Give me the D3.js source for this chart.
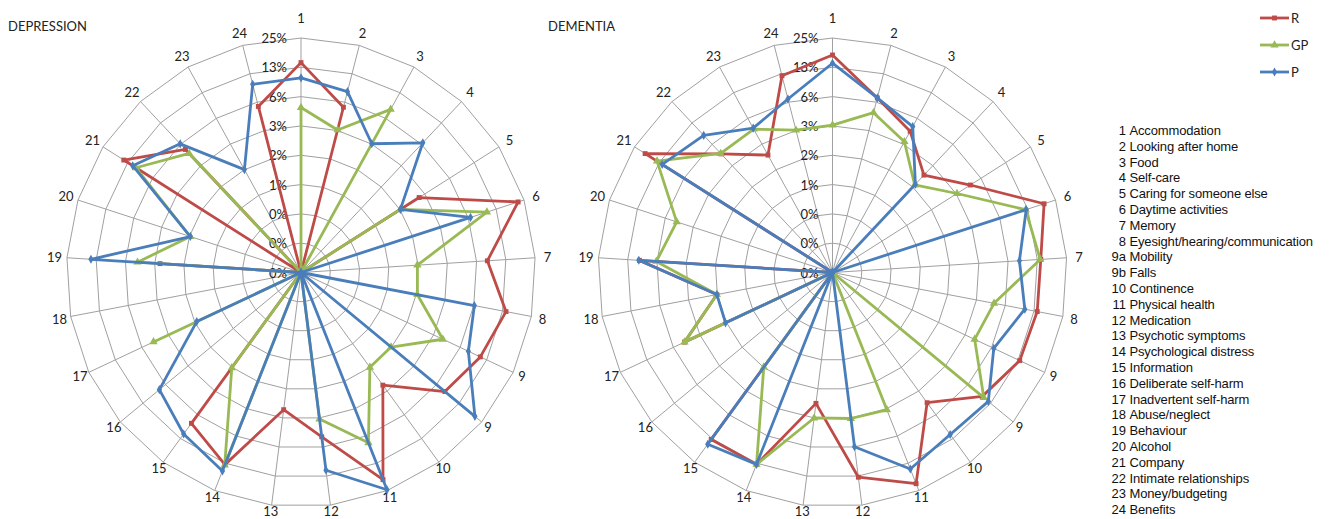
<!DOCTYPE html>
<html>
<head>
<meta charset="utf-8">
<script src="https://cdn.jsdelivr.net/npm/d3@7"></script>
<style>
  body { margin: 0; background: #fff; }
  svg { display: block; }
</style>
</head>
<body>
<div id="chart"></div>
<script>
const width = 1334, height = 519;
const radius = 234.5;

const categories = ["1", "2", "3", "4", "5", "6", "7", "8", "9", "9", "10", "11", "12",
  "13", "14", "15", "16", "17", "18", "19", "20", "21", "22", "23", "24"];

// percentages per category, in category order; 0 = plotted at centre
const depR  = [13.97, 5.52, 0, 0, 2.67, 21.6, 8.08, 13.58, 10.59, 8.08, 2.63, 18.95, 4.90,
  2.57, 12.94, 8.02, 0, 0, 0, 2.76, 0, 13.97, 5.29, 0, 5.63];
const depGP = [4.83, 3.17, 7.97, 0, 1.58, 9.94, 1.54, 1.61, 3.98, 1.55, 1.56, 7.43, 3.21,
  0, 13.12, 1.58, 0, 4.61, 0, 4.70, 1.53, 9.94, 4.64, 0, 0];
const depP  = [9.74, 8.08, 3.15, 6.56, 1.58, 6.61, 0, 6.34, 7.75, 20.3, 0, 24.5, 10.88,
  0, 15.18, 10.96, 7.54, 1.49, 0, 14.16, 1.53, 10.88, 6.34, 1.57, 9.67];

const demR  = [16.73, 6.93, 4.42, 2.30, 4.64, 18.8, 13.58, 13.49, 13.03, 9.67, 4.39, 21.0, 12.85,
  2.21, 12.85, 12.85, 0, 4.67, 1.58, 9.47, 0, 18.56, 4.58, 2.32, 11.9];
const demGP = [3.19, 4.83, 3.33, 1.67, 3.19, 11.9, 13.4, 4.77, 4.01, 10.15, 0, 3.21, 3.17,
  3.13, 12.85, 1.55, 0, 4.67, 1.58, 6.34, 4.70, 13.3, 4.64, 4.67, 3.15];
const demP  = [13.77, 6.93, 5.01, 1.71, 0, 12.07, 8.19, 10.01, 6.61, 11.66, 11.11, 14.46, 6.21,
  0, 12.85, 14.76, 0, 1.60, 1.58, 9.61, 0, 11.5, 8.36, 4.80, 6.75];

const tickValues = [0.09765625, 0.1953125, 0.390625, 0.78125, 1.5625, 3.125, 6.25, 12.5, 25];
const tickLabels = ["0%", "0%", "0%", "1%", "2%", "3%", "6%", "13%", "25%"];

const seriesNames = ["R", "GP", "P"];
const itemCodes = ["1", "2", "3", "4", "5", "6", "7", "8", "9a", "9b", "10", "11", "12",
  "13", "14", "15", "16", "17", "18", "19", "20", "21", "22", "23", "24"];
const itemNames = ["Accommodation", "Looking after home", "Food", "Self-care",
  "Caring for someone else", "Daytime activities", "Memory",
  "Eyesight/hearing/communication", "Mobility", "Falls", "Continence",
  "Physical health", "Medication", "Psychotic symptoms", "Psychological distress",
  "Information", "Deliberate self-harm", "Inadvertent self-harm", "Abuse/neglect",
  "Behaviour", "Alcohol", "Company", "Intimate relationships",
  "Money/budgeting", "Benefits"];

const colors = { R: "#be4b48", GP: "#98b954", P: "#4a7ebb" };
const symbols = { R: d3.symbolSquare, GP: d3.symbolTriangle, P: d3.symbolDiamond };
const labelFont = "Lato, 'DejaVu Sans', sans-serif";

const svg = d3.select("#chart").append("svg")
  .attr("width", width)
  .attr("height", height);

svg.append("rect").attr("width", width).attr("height", height).attr("fill", "#fff");

const r = d3.scaleLog()
  .domain([tickValues[0], tickValues[tickValues.length - 1]])
  .range([0, radius])
  .clamp(true);

const rad = v => v > 0 ? r(v) : 0;
const angle = i => i * 2 * Math.PI / categories.length;

// labels sit a little closer at the bottom, first one a bit higher
function labelRadius(i) {
  const c = Math.cos(angle(i));
  if (i === 0) return 255;
  return c < 0 ? 247 + 6.5 * c : 247;
}

function drawRadar(cx, cy, title, titleX, series) {
  const g = svg.append("g").attr("transform", `translate(${cx},${cy})`);

  // polygon rings
  tickValues.slice(1).forEach(v => {
    g.append("path")
      .attr("d", d3.lineRadial()
        .angle((d, i) => angle(i))
        .radius(r(v))
        .curve(d3.curveLinearClosed)(categories))
      .attr("fill", "none")
      .attr("stroke", "#a0a0a0")
      .attr("stroke-width", 1);
  });

  // spokes
  g.selectAll(".spoke")
    .data(categories)
    .enter()
    .append("line")
    .attr("class", "spoke")
    .attr("x1", 0).attr("y1", 0)
    .attr("x2", (d, i) => radius * Math.sin(angle(i)))
    .attr("y2", (d, i) => -radius * Math.cos(angle(i)))
    .attr("stroke", "#a0a0a0")
    .attr("stroke-width", 1);

  // category labels
  g.selectAll(".cat")
    .data(categories)
    .enter()
    .append("text")
    .attr("class", "cat")
    .attr("x", (d, i) => labelRadius(i) * Math.sin(angle(i)))
    .attr("y", (d, i) => -labelRadius(i) * Math.cos(angle(i)))
    .attr("text-anchor", "middle")
    .attr("dominant-baseline", "central")
    .style("font-family", labelFont)
    .style("font-size", "13px")
    .style("fill", "#222")
    .text(d => d);

  // value tick labels along the first spoke
  g.selectAll(".tick")
    .data(tickValues)
    .enter()
    .append("text")
    .attr("class", "tick")
    .attr("x", -14)
    .attr("y", d => -r(d))
    .attr("text-anchor", "end")
    .attr("dominant-baseline", "central")
    .style("font-family", labelFont)
    .style("font-size", "13px")
    .style("fill", "#222")
    .text((d, i) => tickLabels[i]);

  const line = d3.lineRadial()
    .angle((d, i) => angle(i))
    .radius(d => rad(d))
    .curve(d3.curveLinearClosed);

  series.forEach(s => {
    g.append("path")
      .datum(s.values)
      .attr("d", line)
      .attr("fill", "none")
      .attr("stroke", colors[s.name])
      .attr("stroke-width", 2.8)
      .attr("stroke-linejoin", "round");

    g.selectAll(".m-" + s.name)
      .data(s.values)
      .enter()
      .append("path")
      .attr("class", "m-" + s.name)
      .attr("d", d3.symbol().type(symbols[s.name]).size(s.name === "GP" ? 30 : 24))
      .attr("transform", (d, i) =>
        `translate(${rad(d) * Math.sin(angle(i))},${-rad(d) * Math.cos(angle(i))})`)
      .attr("fill", colors[s.name]);
  });

  svg.append("text")
    .attr("x", titleX)
    .attr("y", 31)
    .style("font-family", labelFont)
    .style("font-size", "13px")
    .style("fill", "#222")
    .text(title);
}

drawRadar(301, 272.5, "DEPRESSION", 8, [
  { name: "R", values: depR },
  { name: "GP", values: depGP },
  { name: "P", values: depP }
]);

drawRadar(832.5, 272.5, "DEMENTIA", 548, [
  { name: "R", values: demR },
  { name: "GP", values: demGP },
  { name: "P", values: demP }
]);

// series legend
const legend = svg.append("g");
seriesNames.forEach((name, i) => {
  const y = 18 + i * 27;
  legend.append("line")
    .attr("x1", 1260).attr("x2", 1289)
    .attr("y1", y).attr("y2", y)
    .attr("stroke", colors[name])
    .attr("stroke-width", 2.8);
  legend.append("path")
    .attr("d", d3.symbol().type(symbols[name]).size(name === "GP" ? 30 : 24))
    .attr("transform", `translate(1274.5,${y})`)
    .attr("fill", colors[name]);
  legend.append("text")
    .attr("x", 1291)
    .attr("y", y)
    .attr("dominant-baseline", "central")
    .style("font-family", labelFont)
    .style("font-size", "13px")
    .style("fill", "#222")
    .text(name);
});

// item list: codes right-aligned, names after them
const items = svg.append("g")
  .style("font-family", "'Liberation Sans', Arial, sans-serif")
  .style("font-size", "13px")
  .style("fill", "#111");

items.selectAll(".code")
  .data(itemCodes)
  .enter()
  .append("text")
  .attr("class", "code")
  .attr("x", 1126)
  .attr("y", (d, i) => 135 + i * 15.8)
  .attr("text-anchor", "end")
  .text(d => d);

items.selectAll(".name")
  .data(itemNames)
  .enter()
  .append("text")
  .attr("class", "name")
  .attr("x", 1129.5)
  .attr("y", (d, i) => 135 + i * 15.8)
  .style("letter-spacing", "-0.15px")
  .text(d => d);
</script>
</body>
</html>
